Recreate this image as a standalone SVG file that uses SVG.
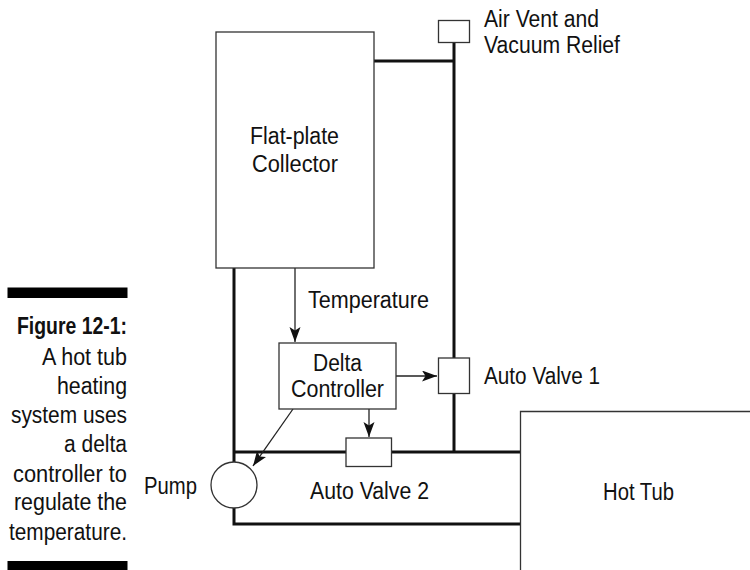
<svg xmlns="http://www.w3.org/2000/svg" width="750" height="570" viewBox="0 0 750 570">
<style>
text{font-family:"Liberation Sans",Arial,sans-serif;font-size:23.500px;fill:#111;transform:translateY(.8px)}
.box{fill:#fff;stroke:#333;stroke-width:1.3}
.pipe{fill:none;stroke:#111;stroke-width:3}
.sig{fill:none;stroke:#222;stroke-width:1.3;marker-end:url(#a)}
</style>
<defs><marker id="a" markerUnits="userSpaceOnUse" markerWidth="16" markerHeight="12" refX="15" refY="5.500" orient="auto"><path d="M0 0L15 5.500L0 11L3.500 5.500Z" fill="#111"/></marker></defs>
<rect width="750" height="570" fill="#fff"/>
<g id="caption">
<rect x="7.500" y="287.500" width="120" height="10.500" fill="#000"/>
<rect x="7.500" y="561" width="120" height="9" fill="#000"/>
<text x="17" y="333" textLength="110" lengthAdjust="spacingAndGlyphs" style="font-weight:bold">Figure 12-1:</text>
<text x="42" y="364" textLength="85" lengthAdjust="spacingAndGlyphs">A hot tub</text>
<text x="57" y="393" textLength="70" lengthAdjust="spacingAndGlyphs">heating</text>
<text x="11" y="422" textLength="116" lengthAdjust="spacingAndGlyphs">system uses</text>
<text x="64" y="451" textLength="63" lengthAdjust="spacingAndGlyphs">a delta</text>
<text x="13" y="481" textLength="114" lengthAdjust="spacingAndGlyphs">controller to</text>
<text x="14" y="509" textLength="113" lengthAdjust="spacingAndGlyphs">regulate the</text>
<text x="9" y="539" textLength="118" lengthAdjust="spacingAndGlyphs">temperature.</text>
</g>
<g id="connectors">
<path class="pipe" d="M374 61H454M454 42V452M234 268V462M234 452H520M234 508V524H520"/>
<path class="sig" d="M295 268V342"/>
<path class="sig" d="M396 376H437"/>
<path class="sig" d="M369 409V437"/>
<path class="sig" d="M293 409L253 466"/>
</g>
<g id="collector"><rect class="box" x="216" y="32" width="158" height="236"/>
<text x="250" y="143" textLength="89" lengthAdjust="spacingAndGlyphs">Flat-plate</text><text x="252" y="171" textLength="86" lengthAdjust="spacingAndGlyphs">Collector</text></g>
<g id="air-vent"><rect class="box" x="438.500" y="20.500" width="31" height="22"/>
<text x="484" y="26" textLength="115" lengthAdjust="spacingAndGlyphs">Air Vent and</text><text x="484" y="52" textLength="136" lengthAdjust="spacingAndGlyphs">Vacuum Relief</text></g>
<g id="temperature"><text x="308" y="307" textLength="121" lengthAdjust="spacingAndGlyphs">Temperature</text></g>
<g id="delta-controller"><rect class="box" x="279" y="343" width="117" height="66"/>
<text x="313" y="370" textLength="49" lengthAdjust="spacingAndGlyphs">Delta</text><text x="291" y="396" textLength="93" lengthAdjust="spacingAndGlyphs">Controller</text></g>
<g id="valve-1"><rect class="box" x="438.500" y="358" width="31" height="35.500"/>
<text x="484" y="383" textLength="116" lengthAdjust="spacingAndGlyphs">Auto Valve 1</text></g>
<g id="valve-2"><rect class="box" x="346" y="438" width="45.500" height="28.500"/>
<text x="310" y="498" textLength="119" lengthAdjust="spacingAndGlyphs">Auto Valve 2</text></g>
<g id="pump"><circle class="box" cx="234" cy="485" r="23"/>
<text x="144" y="493" textLength="53" lengthAdjust="spacingAndGlyphs">Pump</text></g>
<g id="hot-tub"><path class="box" d="M750 411.500H520.500V570"/>
<text x="603" y="499" textLength="71" lengthAdjust="spacingAndGlyphs">Hot Tub</text></g>
</svg>
